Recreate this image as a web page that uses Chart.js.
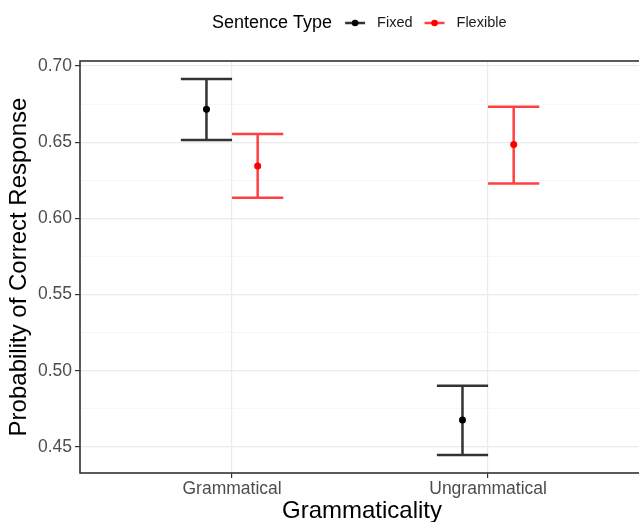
<!DOCTYPE html>
<html lang="en">
<head>
<meta charset="UTF-8">
<title>Probability of Correct Response by Grammaticality</title>
<script src="https://cdn.jsdelivr.net/npm/chart.js@4"></script>
<style>
  html, body { margin: 0; padding: 0; background: #fff; overflow: hidden; }
  canvas { display: block; }
</style>
</head>
<body>
<canvas id="chart" width="648" height="530"></canvas>
<script>
// Data
const categories = ['Grammatical', 'Ungrammatical'];
const seriesNames = ['Fixed', 'Flexible'];
const fixedMean  = [0.6716, 0.4677];
const fixedLower = [0.6514, 0.4448];
const fixedUpper = [0.6915, 0.4902];
const flexMean   = [0.6344, 0.6486];
const flexLower  = [0.6136, 0.6230];
const flexUpper  = [0.6554, 0.6733];
const yTicks = [0.45, 0.475, 0.50, 0.525, 0.55, 0.575, 0.60, 0.625, 0.65, 0.675, 0.70];

const FONT = '"Liberation Sans", Arial, Helvetica, sans-serif';
const dodge = 0.1;     // half the dodge distance, in category units
const capHalf = 0.1;   // half the error bar width

const series = [
  { name: seriesNames[0], mean: fixedMean, lower: fixedLower, upper: fixedUpper,
    offset: -dodge, point: '#000000', bar: 'rgba(0,0,0,0.8)' },
  { name: seriesNames[1], mean: flexMean, lower: flexLower, upper: flexUpper,
    offset: dodge, point: '#ff0000', bar: 'rgba(255,0,0,0.75)' }
];

const isMajor = (v) => Math.abs(v * 20 - Math.round(v * 20)) < 1e-6;

// Error bars drawn behind the points, positioned through the chart scales
const errorBars = {
  id: 'errorBars',
  beforeDatasetsDraw(chart) {
    const { ctx, scales: { x, y } } = chart;
    ctx.save();
    ctx.lineCap = 'butt';
    ctx.lineWidth = 2.5;
    series.forEach((s) => {
      ctx.strokeStyle = s.bar;
      categories.forEach((c, i) => {
        const cx = i + 1 + s.offset;
        const px = x.getPixelForValue(cx);
        const x0 = x.getPixelForValue(cx - capHalf);
        const x1 = x.getPixelForValue(cx + capHalf);
        const yLo = y.getPixelForValue(s.lower[i]);
        const yHi = y.getPixelForValue(s.upper[i]);
        ctx.beginPath();
        ctx.moveTo(px, yLo); ctx.lineTo(px, yHi);
        ctx.moveTo(x0, yLo); ctx.lineTo(x1, yLo);
        ctx.moveTo(x0, yHi); ctx.lineTo(x1, yHi);
        ctx.stroke();
      });
    });
    ctx.restore();
  }
};

// Panel border + ggplot style legend on top
const panelAndLegend = {
  id: 'panelAndLegend',
  afterDraw(chart) {
    const { ctx, chartArea: a } = chart;
    ctx.save();
    ctx.strokeStyle = '#333333';
    ctx.lineWidth = 1.6;
    ctx.strokeRect(a.left, a.top, a.right - a.left, a.bottom - a.top);

    // legend
    const ly = 23;
    let lx = 212;
    ctx.textBaseline = 'middle';
    ctx.textAlign = 'left';
    ctx.fillStyle = '#000';
    ctx.font = '18px ' + FONT;
    ctx.fillText('Sentence Type', lx, ly);
    lx += ctx.measureText('Sentence Type').width + 13;
    ctx.font = '14.5px ' + FONT;
    series.forEach((s) => {
      ctx.strokeStyle = s.bar;
      ctx.lineWidth = 2.5;
      ctx.beginPath();
      ctx.moveTo(lx, ly); ctx.lineTo(lx + 20, ly);
      ctx.stroke();
      ctx.fillStyle = s.point;
      ctx.beginPath();
      ctx.arc(lx + 10, ly, 3.3, 0, Math.PI * 2);
      ctx.fill();
      lx += 32;
      ctx.fillStyle = '#1a1a1a';
      ctx.fillText(s.name, lx, ly);
      lx += ctx.measureText(s.name).width + 12;
    });
    ctx.restore();
  }
};

const datasets = series.map((s) => ({
  label: s.name,
  data: categories.map((c, i) => ({ x: i + 1 + s.offset, y: s.mean[i] })),
  pointRadius: 3.5,
  pointBackgroundColor: s.point,
  pointBorderWidth: 0,
  showLine: false
}));

new Chart(document.getElementById('chart'), {
  type: 'scatter',
  data: { datasets },
  options: {
    responsive: false,
    animation: false,
    devicePixelRatio: 1,
    layout: { padding: { top: 61, right: 4, left: 0, bottom: 0 } },
    plugins: { legend: { display: false }, tooltip: { enabled: false } },
    scales: {
      x: {
        type: 'linear',
        min: 0.406,
        max: 2.609,
        afterBuildTicks: (scale) => { scale.ticks = categories.map((c, i) => ({ value: i + 1 })); },
        afterFit: (scale) => { scale.height = 57; },
        ticks: {
          callback: (v) => categories[v - 1] || '',
          color: '#4d4d4d',
          font: { family: FONT, size: 17.5 },
          padding: 1,
          maxRotation: 0,
          autoSkip: false
        },
        grid: { color: '#ebebeb', lineWidth: 1.2, tickLength: 5, tickColor: '#333333', tickWidth: 1.2 },
        border: { display: false },
        title: {
          display: true,
          text: 'Grammaticality',
          color: '#000',
          font: { family: FONT, size: 24 },
          padding: { top: 0, bottom: 4 }
        }
      },
      y: {
        min: 0.433,
        max: 0.7033,
        afterBuildTicks: (scale) => { scale.ticks = yTicks.map((v) => ({ value: v })); },
        afterFit: (scale) => { scale.width = 80; },
        ticks: {
          callback: (v) => isMajor(v) ? v.toFixed(2) : '',
          color: '#4d4d4d',
          font: { family: FONT, size: 17.5 },
          padding: 3,
          autoSkip: false
        },
        grid: {
          color: (c) => isMajor(c.tick.value) ? '#ebebeb' : '#f3f3f3',
          lineWidth: (c) => isMajor(c.tick.value) ? 1.2 : 0.7,
          tickLength: 5,
          tickColor: (c) => isMajor(c.tick.value) ? '#333333' : 'rgba(0,0,0,0)',
          tickWidth: 1.2
        },
        border: { display: false },
        title: {
          display: true,
          text: 'Probability of Correct Response',
          color: '#000',
          font: { family: FONT, size: 24 },
          padding: { top: 5, bottom: 0 }
        }
      }
    }
  },
  plugins: [errorBars, panelAndLegend]
});
</script>
</body>
</html>
